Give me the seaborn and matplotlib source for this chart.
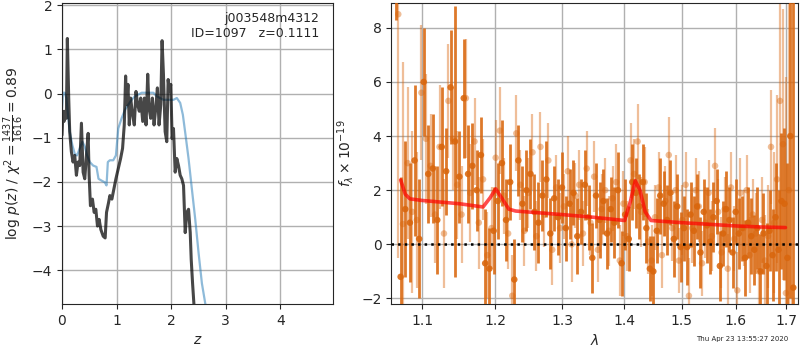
import numpy as np, pandas as pd
import matplotlib; matplotlib.use("Agg"); import matplotlib.pyplot as plt
import matplotlib.ticker as mticker
import seaborn as sns

# --- p(z) panel ---
pz_z = [0.000, 0.018, 0.037, 0.055, 0.080, 0.098, 0.123, 0.141, 0.172, 0.202,
        0.233, 0.264, 0.294, 0.325, 0.356, 0.387, 0.417, 0.448, 0.479, 0.497,
        0.521, 0.558, 0.589, 0.620, 0.650, 0.681, 0.712, 0.755, 0.791, 0.816,
        0.853, 0.877, 0.914, 0.951, 0.988, 1.031, 1.074, 1.110, 1.141, 1.166,
        1.184, 1.209, 1.233, 1.258, 1.294, 1.325, 1.356, 1.387, 1.417, 1.442,
        1.479, 1.509, 1.540, 1.571, 1.595, 1.626, 1.656, 1.687, 1.718, 1.748,
        1.779, 1.810, 1.834, 1.859, 1.890, 1.920, 1.945, 1.969, 1.994, 2.018,
        2.043, 2.074, 2.104, 2.135, 2.166, 2.196, 2.227, 2.258, 2.288, 2.319,
        2.350, 2.368, 2.393, 2.417, 2.450]
pz_logp = [-0.94, -0.40, -0.63, -0.40, -0.56, 1.25, -0.10, -0.86, -1.32, -1.55,
           -1.40, -1.85, -1.55, -1.63, -0.67, -1.78, -1.93, -1.40, -0.90, -1.85,
           -2.54, -2.39, -2.69, -2.62, -3.00, -2.85, -3.08, -3.23, -3.27, -2.69,
           -2.47, -2.31, -2.39, -2.16, -1.93, -1.70, -1.47, -1.24, -0.71, 0.40,
           -0.25, 0.21, -0.71, -0.10, -0.48, -0.71, 0.05, -0.25, -0.40, -0.10,
           -0.63, -0.10, -0.71, 0.44, -0.33, -0.56, -0.10, -0.71, -0.33, 0.13,
           -0.71, -0.25, 1.20, 0.44, -0.86, -1.09, 0.32, 0.05, 0.21, -1.02,
           -0.79, -1.78, -1.47, -1.63, -1.85, -1.93, -2.08, -3.15, -2.69, -2.62,
           -3.15, -3.76, -4.30, -4.76, -6.00]

prior_z = [0.000, 0.018, 0.049, 0.080, 0.110, 0.141, 0.190, 0.233, 0.276, 0.325,
           0.374, 0.417, 0.460, 0.509, 0.571, 0.632, 0.669, 0.724, 0.785, 0.816,
           0.840, 0.877, 0.939, 0.988, 1.031, 1.092, 1.153, 1.215, 1.276, 1.337,
           1.399, 1.460, 1.552, 1.675, 1.736, 1.798, 1.859, 1.951, 2.043, 2.104,
           2.166, 2.215, 2.264, 2.319, 2.380, 2.442, 2.503, 2.564, 2.626, 2.700]
prior_logp = [-0.33, 0.02, 0.02, -0.10, -0.48, -0.86, -1.17, -1.36, -1.40, -1.24,
              -1.09, -1.20, -1.40, -1.55, -1.63, -1.66, -1.93, -1.97, -2.01, -2.08,
              -1.55, -1.51, -1.51, -1.40, -0.79, -0.56, -0.37, -0.25, -0.14, -0.06,
              -0.02, 0.02, 0.02, 0.02, -0.06, -0.10, -0.14, -0.14, -0.14, -0.10,
              -0.21, -0.48, -0.94, -1.47, -2.16, -2.85, -3.61, -4.30, -4.76, -5.50]

# --- spectrum panel (two beams) ---
wave_a = [1.066, 1.072, 1.078, 1.084, 1.090, 1.096, 1.102, 1.108, 1.114, 1.120,
          1.126, 1.132, 1.138, 1.144, 1.150, 1.156, 1.162, 1.168, 1.174, 1.180,
          1.186, 1.192, 1.198, 1.204, 1.210, 1.216, 1.222, 1.228, 1.234, 1.240,
          1.246, 1.252, 1.258, 1.264, 1.270, 1.276, 1.282, 1.288, 1.294, 1.300,
          1.306, 1.312, 1.318, 1.324, 1.330, 1.336, 1.342, 1.348, 1.354, 1.360,
          1.366, 1.372, 1.378, 1.384, 1.390, 1.396, 1.402, 1.408, 1.414, 1.420,
          1.426, 1.432, 1.438, 1.444, 1.450, 1.456, 1.462, 1.468, 1.474, 1.480,
          1.486, 1.492, 1.498, 1.504, 1.510, 1.516, 1.522, 1.528, 1.534, 1.540,
          1.546, 1.552, 1.558, 1.564, 1.570, 1.576, 1.582, 1.588, 1.594, 1.600,
          1.606, 1.612, 1.618, 1.624, 1.630, 1.636, 1.642, 1.648, 1.654, 1.660,
          1.666, 1.672, 1.678, 1.684, 1.690, 1.696, 1.702, 1.708, 1.714]
flux_a = [12.0, -1.2, 1.3, 0.8, 3.1, 0.2, 6.0, 2.6, 2.8, 0.9,
          3.6, 2.7, 5.8, 3.8, 2.5, 5.4, 2.6, 2.9, 2.0, 3.3,
          -0.7, -0.9, 0.5, 1.6, 3.0, 0.9, 2.3, -1.3, 3.1, 1.5,
          2.0, 2.6, 1.2, 0.8, 1.8, 2.4, 0.4, 1.7, 1.0, 2.1,
          0.6, 1.5, 1.9, 0.3, 1.2, 2.2, 1.0, -0.5, 1.8, 0.9,
          1.6, 0.4, 1.3, 0.8, 2.0, -0.7, 1.1, 0.2, 2.3, 1.9,
          1.4, 2.3, 0.6, -0.9, -1.0, 0.5, 1.8, 1.5, 0.9, 1.9,
          0.2, 1.4, -0.1, 0.6, -0.1, 1.1, 0.5, 1.4, -0.3, 1.2,
          0.7, 0.1, 1.0, 1.6, -0.8, 0.4, 1.3, 0.9, -0.3, 1.2,
          0.4, 0.6, -0.5, 0.8, 0.3, -0.2, 0.6, -1.0, 0.4, -0.8,
          0.5, -0.4, 1.0, -0.2, 1.6, 1.5, -0.5, 4.0, -1.6]
err_a = [3.7, 3.7, 2.5, 2.2, 2.8, 2.2, 2.0, 1.8, 2.0, 2.0,
         2.2, 1.6, 2.1, 5.0, 1.7, 2.2, 1.8, 1.6, 1.5, 1.4,
         2.0, 1.5, 1.6, 1.4, 1.6, 1.5, 1.4, 1.5, 1.3, 1.4,
         1.5, 1.3, 1.4, 1.5, 1.3, 1.4, 1.3, 1.2, 1.4, 1.3,
         1.2, 1.3, 1.2, 1.4, 1.2, 1.3, 1.2, 1.3, 1.2, 1.4,
         1.2, 1.3, 1.2, 1.3, 1.4, 1.2, 1.3, 1.2, 1.4, 1.3,
         1.2, 1.4, 1.3, 1.2, 1.3, 1.2, 1.4, 1.2, 1.3, 1.2,
         1.4, 1.2, 1.3, 1.2, 1.4, 1.2, 1.3, 1.2, 1.3, 1.2,
         1.4, 1.2, 1.3, 1.2, 1.3, 1.2, 1.4, 1.2, 1.3, 1.2,
         1.3, 1.2, 1.4, 1.3, 1.4, 1.3, 1.5, 1.4, 1.5, 1.6,
         1.5, 1.7, 2.0, 2.2, 2.5, 2.8, 3.5, 6.0, 12.0]

wave_b = [1.069, 1.075, 1.081, 1.087, 1.093, 1.099, 1.105, 1.111, 1.117, 1.123,
          1.129, 1.135, 1.141, 1.147, 1.153, 1.159, 1.165, 1.171, 1.177, 1.183,
          1.189, 1.195, 1.201, 1.207, 1.213, 1.219, 1.225, 1.231, 1.237, 1.243,
          1.249, 1.255, 1.261, 1.267, 1.273, 1.279, 1.285, 1.291, 1.297, 1.303,
          1.309, 1.315, 1.321, 1.327, 1.333, 1.339, 1.345, 1.351, 1.357, 1.363,
          1.369, 1.375, 1.381, 1.387, 1.393, 1.399, 1.405, 1.411, 1.417, 1.423,
          1.429, 1.435, 1.441, 1.447, 1.453, 1.459, 1.465, 1.471, 1.477, 1.483,
          1.489, 1.495, 1.501, 1.507, 1.513, 1.519, 1.525, 1.531, 1.537, 1.543,
          1.549, 1.555, 1.561, 1.567, 1.573, 1.579, 1.585, 1.591, 1.597, 1.603,
          1.609, 1.615, 1.621, 1.627, 1.633, 1.639, 1.645, 1.651, 1.657, 1.663,
          1.669, 1.675, 1.681, 1.687, 1.693, 1.699, 1.705, 1.711]
flux_b = [8.5, 0.75, 3.0, 1.2, 0.9, 5.6, 3.9, 2.9, 1.1, 3.6,
          0.4, 5.3, 3.9, 2.2, 1.1, 5.4, 1.9, 3.8, 0.8, 2.4,
          -0.4, 0.6, 3.2, 4.2, 1.8, 0.4, -1.9, 4.1, 2.2, 0.5,
          1.9, 3.4, 0.3, 3.6, 1.1, 3.1, -0.2, 2.1, 0.6, 1.4,
          2.7, 0.0, 1.8, 2.2, 0.4, 2.8, 0.8, 2.5, -0.2, 1.3,
          2.0, 0.5, 1.7, 2.3, -0.6, 1.5, 0.3, 3.1, 2.6, 3.8,
          1.2, 2.3, 0.1, -0.6, 1.0, 2.1, -0.4, 1.6, 3.3, 0.6,
          2.0, -0.6, 0.9, 2.2, -1.9, 0.6, 2.0, 1.4, -0.7, 0.8,
          1.9, 0.3, 2.9, 1.2, -0.3, 1.3, -0.9, 2.1, 0.2, -1.7,
          1.9, 0.6, 2.0, -0.4, 1.1, 0.4, -1.0, 0.9, -0.6, 0.3,
          3.6, 0.8, 2.4, 5.3, 3.7, -1.8, 2.0, -2.5]
err_b = [9.0, 6.0, 2.8, 3.0, 2.5, 2.5, 2.4, 1.9, 1.8, 2.3,
         2.0, 2.1, 1.9, 2.0, 1.8, 2.2, 1.8, 1.6, 1.7, 1.5,
         1.6, 1.5, 1.4, 1.6, 1.4, 1.3, 1.5, 1.4, 1.3, 1.3,
         1.3, 1.4, 1.3, 1.3, 1.2, 1.4, 1.3, 1.2, 1.3, 1.2,
         1.3, 1.4, 1.2, 1.3, 1.2, 1.4, 1.2, 1.3, 1.2, 1.3,
         1.2, 1.3, 1.2, 1.4, 1.3, 1.2, 1.3, 1.4, 1.3, 1.4,
         1.3, 1.3, 1.2, 1.3, 1.2, 1.3, 1.2, 1.3, 1.4, 1.2,
         1.3, 1.2, 1.3, 1.2, 1.4, 1.3, 1.2, 1.3, 1.2, 1.3,
         1.2, 1.3, 1.4, 1.2, 1.3, 1.2, 1.3, 1.3, 1.2, 1.4,
         1.3, 1.4, 1.3, 1.4, 1.3, 1.5, 1.4, 1.6, 1.7, 1.9,
         2.1, 2.6, 3.1, 3.6, 5.0, 8.0, 10.0, 1.0]

model_wave = [1.072, 1.078, 1.084, 1.100, 1.150, 1.183, 1.193, 1.201, 1.210, 1.220,
              1.230, 1.300, 1.350, 1.401, 1.411, 1.419, 1.427, 1.436, 1.446, 1.500,
              1.550, 1.600, 1.650, 1.698]
model_flux = [2.38, 1.85, 1.68, 1.62, 1.50, 1.38, 1.72, 2.05, 1.70, 1.30,
              1.23, 1.10, 1.00, 0.88, 1.60, 2.35, 2.00, 1.20, 0.88, 0.80,
              0.74, 0.68, 0.64, 0.62]

wave_ticks = [1.1, 1.2, 1.3, 1.4, 1.5, 1.6, 1.7]

sns.set_style("ticks")
plt.rcParams["font.family"] = ["DejaVu Sans"]
grid_kw = dict(color="#b0b0b0", lw=1, zorder=0)
orange = (0.85, 0.40, 0.05)

fig = plt.figure(figsize=(8, 3.5), dpi=100)
ax1 = fig.add_axes([0.0775, 0.131, 0.339, 0.86])
ax2 = fig.add_axes([0.489, 0.131, 0.509, 0.86])

# left: log p(z)
sns.lineplot(x=prior_z, y=prior_logp, ax=ax1, color="C0", alpha=0.5, lw=1.6,
             sort=False, estimator=None)
sns.lineplot(x=pz_z, y=pz_logp, ax=ax1, color="k", alpha=0.72, lw=2.2,
             sort=False, estimator=None)
ax1.set_xlim(0, 4.97); ax1.set_ylim(-4.77, 2.05)
ax1.set_xticks([0, 1, 2, 3, 4]); ax1.set_yticks([-4, -3, -2, -1, 0, 1, 2])
ax1.grid(True, **grid_kw); ax1.set_axisbelow(True)
ax1.set_xlabel("$z$")
ax1.set_ylabel(r"$\log\,p(z)$ / $\chi^2=\frac{1437}{1616}=0.89$")
ax1.text(0.95, 0.97, "j003548m4312\nID=1097   z=0.1111", transform=ax1.transAxes,
         ha="right", va="top", fontsize=9)

# right: spectrum
ax2.errorbar(wave_b, flux_b, yerr=err_b, fmt="none", ecolor=orange, alpha=0.42,
             elinewidth=1.6, capsize=0, zorder=2)
sns.scatterplot(x=wave_b, y=flux_b, ax=ax2, color=orange, alpha=0.42, s=22,
                edgecolor="none", zorder=2)
ax2.errorbar(wave_a, flux_a, yerr=err_a, fmt="none", ecolor=orange, alpha=0.88,
             elinewidth=2.0, capsize=0, zorder=3)
sns.scatterplot(x=wave_a, y=flux_a, ax=ax2, color=orange, alpha=0.88, s=22,
                edgecolor="none", zorder=3)
sns.lineplot(x=model_wave, y=model_flux, ax=ax2, color="r", alpha=0.7, lw=2.6,
             sort=False, estimator=None, zorder=4)
ax2.axhline(0, color="k", ls=":", lw=1.8, zorder=5)
ax2.set_xscale("log")
ax2.xaxis.set_major_locator(mticker.FixedLocator(wave_ticks))
ax2.xaxis.set_major_formatter(mticker.FixedFormatter([f"{w:.1f}" for w in wave_ticks]))
ax2.xaxis.set_minor_locator(mticker.NullLocator())
ax2.set_xlim(1.060, 1.7245); ax2.set_ylim(-2.21, 8.91)
ax2.set_yticks([-2, 0, 2, 4, 6, 8])
ax2.grid(True, **grid_kw); ax2.set_axisbelow(True)
ax2.set_xlabel(r"$\lambda$")
ax2.set_ylabel(r"$f_\lambda\times10^{-19}$")

fig.text(0.985, 0.022, "Thu Apr 23 13:55:27 2020", ha="right", va="bottom", fontsize=5)

plt.savefig("out.png", dpi=100)
